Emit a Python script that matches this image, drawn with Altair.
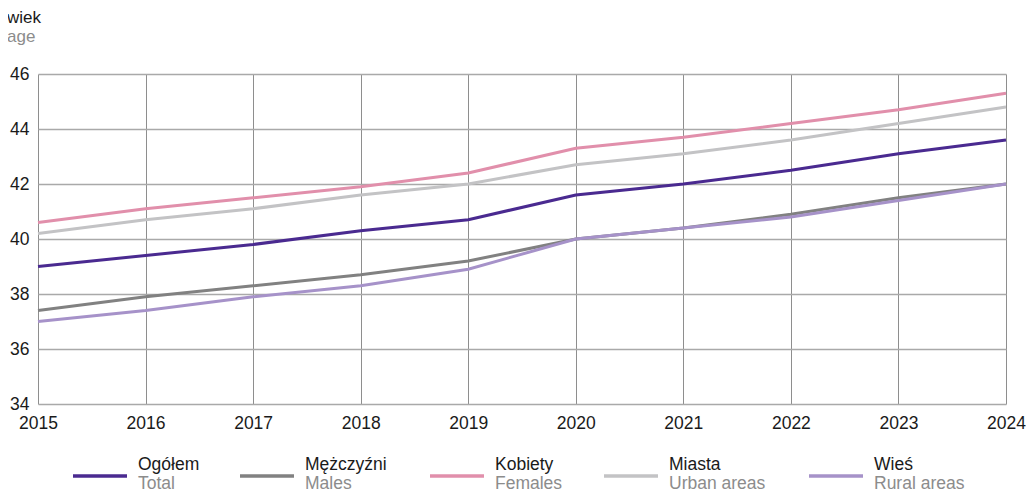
import altair as alt
import pandas as pd

years = [2015, 2016, 2017, 2018, 2019, 2020, 2021, 2022, 2023, 2024]
ogolem = [39.0, 39.4, 39.8, 40.3, 40.7, 41.6, 42.0, 42.5, 43.1, 43.6]
mezczyzni = [37.4, 37.9, 38.3, 38.7, 39.2, 40.0, 40.4, 40.9, 41.5, 42.0]
kobiety = [40.6, 41.1, 41.5, 41.9, 42.4, 43.3, 43.7, 44.2, 44.7, 45.3]
miasta = [40.2, 40.7, 41.1, 41.6, 42.0, 42.7, 43.1, 43.6, 44.2, 44.8]
wies = [37.0, 37.4, 37.9, 38.3, 38.9, 40.0, 40.4, 40.8, 41.4, 42.0]

series_pl = ["Ogółem", "Mężczyźni", "Kobiety", "Miasta", "Wieś"]
series_en = ["Total", "Males", "Females", "Urban areas", "Rural areas"]
colors = ["#4a2a90", "#818181", "#e18fab", "#c3c3c5", "#a692c9"]
y_ticks = [34, 36, 38, 40, 42, 44, 46]

values = [ogolem, mezczyzni, kobiety, miasta, wies]
rows = []
for name, vals in zip(series_pl, values):
    for yr, v in zip(years, vals):
        rows.append({"year": yr, "value": v, "series": name})
df = pd.DataFrame(rows)

W, H = 968, 330
FONT = "Liberation Sans"
AX_FS = 17.5
TT_FS = 17
LG_FS = 17.5

base = alt.Chart(df).mark_line(strokeWidth=3, clip=False).encode(
    x=alt.X("year:Q", scale=alt.Scale(domain=[2015, 2024], nice=False),
            axis=alt.Axis(values=years, format="d", title=None, grid=True,
                          gridColor="#8e8e8e", gridWidth=1, domain=False,
                          ticks=False, labelFontSize=AX_FS, labelFont=FONT,
                          labelColor="#1a1a1a", labelPadding=10,
                          labelFlush=False, labelOverlap=False)),
    y=alt.Y("value:Q", scale=alt.Scale(domain=[34, 46], nice=False, zero=False),
            axis=alt.Axis(values=y_ticks, title=None, grid=True,
                          gridColor="#a9a9a9", gridWidth=1.6, domain=False,
                          ticks=False, labelFontSize=AX_FS, labelFont=FONT,
                          labelColor="#1a1a1a", labelPadding=9)),
    color=alt.Color("series:N", scale=alt.Scale(domain=series_pl, range=colors),
                    legend=None),
    order=alt.Order("year:Q"),
)

one = pd.DataFrame({"k": [0]})
layers = [base]

# axis title (two lines)
layers.append(alt.Chart(one).mark_text(align="left", baseline="middle", fontSize=TT_FS,
                                       font=FONT, color="#1a1a1a").encode(
    x=alt.value(-31), y=alt.value(-56), text=alt.value("wiek")))
layers.append(alt.Chart(one).mark_text(align="left", baseline="middle", fontSize=TT_FS,
                                       font=FONT, color="#8c8c8c").encode(
    x=alt.value(-31), y=alt.value(-37), text=alt.value("age")))

# custom legend
legend_x = [35, 202, 392, 566, 771]
for lx, pl, en, c in zip(legend_x, series_pl, series_en, colors):
    layers.append(alt.Chart(one).mark_rule(strokeWidth=3.5, color=c).encode(
        x=alt.value(lx), x2=alt.value(lx + 54), y=alt.value(402)))
    layers.append(alt.Chart(one).mark_text(align="left", baseline="middle", fontSize=LG_FS,
                                           font=FONT, color="#1a1a1a").encode(
        x=alt.value(lx + 65), y=alt.value(391), text=alt.value(pl)))
    layers.append(alt.Chart(one).mark_text(align="left", baseline="middle", fontSize=LG_FS,
                                           font=FONT, color="#8c8c8c").encode(
        x=alt.value(lx + 65), y=alt.value(410), text=alt.value(en)))

chart = alt.layer(*layers).properties(
    width=W, height=H,
    autosize=alt.AutoSizeParams(type="none"),
    padding={"left": 30, "top": 66, "right": 20, "bottom": 88},
).configure_view(stroke=None)

chart.save("out.html", embed_options={"renderer": "svg", "actions": False})
